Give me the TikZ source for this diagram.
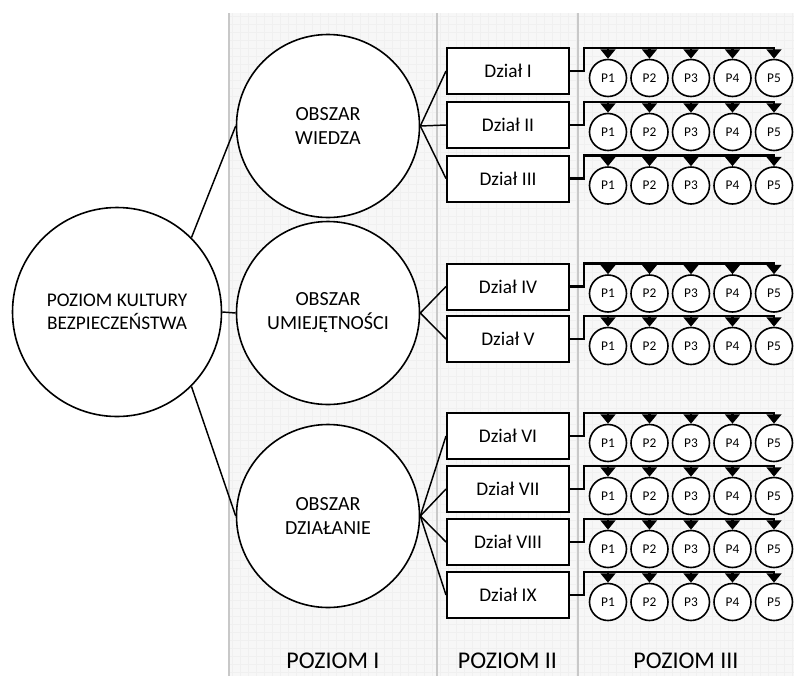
\documentclass[tikz,border=0pt]{standalone}
\usepackage{fontspec}
\setmainfont{Carlito}
\usetikzlibrary{arrows.meta}

\definecolor{panelbg}{HTML}{F7F7F7}
\definecolor{gridc}{HTML}{F0F0F0}
\definecolor{sepc}{HTML}{C8C8C8}

\begin{document}
\begin{tikzpicture}[x=0.75pt,y=-0.75pt,
  bigcirc/.style={circle, draw, line width=1.2pt, fill=white, minimum size=156.75pt,
    inner sep=0pt, align=center, font=\fontsize{14.5}{17.5}\selectfont},
  areacirc/.style={circle, draw, line width=1.2pt, fill=white, minimum size=137.25pt,
    inner sep=0pt, align=center, font=\fontsize{15}{18}\selectfont},
  unitbox/.style={rectangle, draw, line width=1.5pt, fill=white, minimum width=91.5pt,
    minimum height=34.5pt, inner sep=0pt, font=\fontsize{14.5}{17}\selectfont},
  pcirc/.style={circle, draw, line width=1.2pt, fill=white, minimum size=27.75pt,
    inner sep=0pt, font=\fontsize{10}{12}\selectfont},
  link/.style={line width=1.1pt},
  feed/.style={line width=1.8pt, line join=miter, -{Triangle[width=11pt,length=7pt]}},
  levellabel/.style={font=\fontsize{18}{21}\selectfont, anchor=base},
]

% canvas and the three level panels
\useasboundingbox (0,0) rectangle (794,676);
\fill[white] (0,0) rectangle (794,676);
\fill[panelbg] (229,13) rectangle (794,676);
\begin{scope}
  \clip (229,13) rectangle (794,676);
  \draw[gridc, line width=0.25pt, step=6pt] (229,13) grid (794,676);
\end{scope}
\foreach \sx in {229,437,578}
  \draw[sepc, line width=1.5pt] (\sx,13) -- (\sx,676);

% level captions
\node[levellabel] (lvl1) at (333,668) {POZIOM I};
\node[levellabel] (lvl2) at (507.5,668) {POZIOM II};
\node[levellabel] (lvl3) at (686,668) {POZIOM III};

% root and the three areas
\node[bigcirc] (culture) at (117,312) {POZIOM KULTURY\\BEZPIECZEŃSTWA};
\node[areacirc] (know)  at (328,126) {OBSZAR\\WIEDZA};
\node[areacirc] (skill) at (328,313) {OBSZAR\\UMIEJĘTNOŚCI};
\node[areacirc] (act)   at (328,516) {OBSZAR\\DZIAŁANIE};

\draw[link] (culture.45) -- (know.west);
\draw[link] (culture.east) -- (skill.west);
\draw[link] (culture.-45) -- (act.west);

% departments with their five elements each
\foreach \n/\lab/\y/\src in {1/Dział I/71/know, 2/Dział II/125/know, 3/Dział III/178.5/know,
    4/Dział IV/286.5/skill, 5/Dział V/339/skill,
    6/Dział VI/436/act, 7/Dział VII/489/act, 8/Dział VIII/542/act, 9/Dział IX/595/act} {
  \node[unitbox] (d\n) at (508,\y) {\lab};
  \draw[link] (\src.east) -- (d\n.west);
  \coordinate (d\n-bus) at (584,{\y-23});
  \foreach \k in {1,...,5} {
    \node[pcirc] (d\n-p\k) at ({608+41.5*(\k-1)},{\y+7}) {P\k};
    \draw[feed] (d\n.east) -| (d\n-bus) -| (d\n-p\k.north);
  }
}
\end{tikzpicture}
\end{document}
